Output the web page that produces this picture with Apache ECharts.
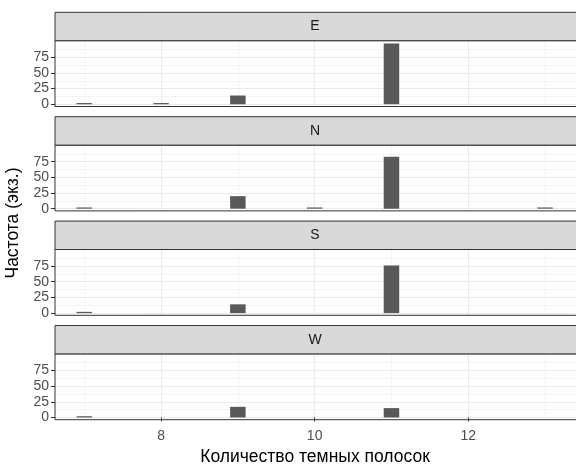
<!DOCTYPE html>
<html><head><meta charset="utf-8">
<script src="https://cdn.jsdelivr.net/npm/echarts@6/dist/echarts.min.js"></script>
<style>html,body{margin:0;padding:0;background:#fff}#c{width:576px;height:466px}</style>
</head><body><div id="c"></div>
<script>
// ---- data ----
const facets = ['E', 'N', 'S', 'W'];
const xValues = [7, 8, 9, 10, 11, 12, 13];
const countsE = [2, 2, 14, 0, 97, 0, 0];
const countsN = [2, 0, 20, 2, 83, 0, 2];
const countsS = [2, 0, 14, 0, 76, 0, 0];
const countsW = [2, 0, 17, 0, 15, 0, 0];
const yTicks = [0, 25, 50, 75];
const yMinor = [12.5, 37.5, 62.5, 87.5];
const xTicks = [8, 10, 12];
const xMinor = [7, 9, 11, 13];
const xTitle = 'Количество темных полосок';
const yTitle = 'Частота (экз.)';

// ---- layout ----
const FONT = '"Liberation Sans", Arial, sans-serif';
const left = 55, visW = 521, borderW = 532, stripTop0 = 12.3, step = 104.4, stripH = 28.4, panelH = 65.8;
const xMin = 6.619, xMax = 6.619 + visW / 76.8;
const yMin = -3.5, yMax = 101.4;
const allCounts = [countsE, countsN, countsS, countsW];

const grids = [], xAxes = [], yAxes = [], series = [], graphics = [];
facets.forEach((f, i) => {
  const sTop = stripTop0 + step * i;
  const last = i === facets.length - 1;
  grids.push({left: left, top: sTop + stripH, width: visW, height: panelH, show: true,
    borderWidth: 0, backgroundColor: '#ffffff', containLabel: false});
  xAxes.push({gridIndex: i, type: 'value', min: xMin, max: xMax, position: 'bottom',
    axisLine: {show: false},
    axisTick: {show: last, customValues: xTicks, length: 4, lineStyle: {color: '#333333', width: 1}},
    axisLabel: {show: last, customValues: xTicks, margin: 9, color: '#4D4D4D', fontSize: 14, fontFamily: FONT},
    splitLine: {show: true, lineStyle: {color: '#EBEBEB', width: 1.1}}});
  xAxes.push({gridIndex: i, type: 'value', min: xMin, max: xMax, position: 'top',
    axisLine: {show: false}, axisTick: {show: false, customValues: xMinor}, axisLabel: {show: false},
    splitLine: {show: true, lineStyle: {color: '#EBEBEB', width: 0.6}}});
  yAxes.push({gridIndex: i, type: 'value', min: yMin, max: yMax, position: 'left',
    axisLine: {show: false},
    axisTick: {show: true, customValues: yTicks, length: 4, lineStyle: {color: '#333333', width: 1}},
    axisLabel: {customValues: yTicks, margin: 6, color: '#4D4D4D', fontSize: 14, fontFamily: FONT},
    splitLine: {show: true, lineStyle: {color: '#EBEBEB', width: 1.1}}});
  yAxes.push({gridIndex: i, type: 'value', min: yMin, max: yMax, position: 'right',
    axisLine: {show: false}, axisTick: {show: false, customValues: yMinor}, axisLabel: {show: false},
    splitLine: {show: true, lineStyle: {color: '#EBEBEB', width: 0.6}}});
  const data = xValues.map((x, k) => [x, allCounts[i][k]]).filter(d => d[1] > 0);
  series.push({type: 'bar', xAxisIndex: 2 * i, yAxisIndex: 2 * i, data: data, barWidth: 15.5,
    itemStyle: {color: '#595959'}, silent: true, z: 3});
  // panel border (extends past the right edge, as in the cropped reference)
  graphics.push({type: 'rect', shape: {x: left, y: sTop + stripH, width: borderW, height: panelH},
    style: {fill: null, stroke: '#333333', lineWidth: 1}, z: 9, silent: true});
  graphics.push({type: 'rect', shape: {x: left, y: sTop, width: borderW, height: stripH},
    style: {fill: '#D9D9D9', stroke: '#333333', lineWidth: 1}, z: 10, silent: true});
  graphics.push({type: 'text', x: 315, y: sTop + stripH / 2,
    style: {text: f, fill: '#1A1A1A', font: '14px ' + FONT, textAlign: 'center', textVerticalAlign: 'middle'}, z: 11});
});
graphics.push({type: 'text', x: 315, y: 457,
  style: {text: xTitle, fill: '#000000', font: '17.5px ' + FONT, textAlign: 'center', textVerticalAlign: 'middle'}, z: 11});
graphics.push({type: 'text', x: 13, y: 223, rotation: Math.PI / 2,
  style: {text: yTitle, fill: '#000000', font: '17.5px ' + FONT, textAlign: 'center', textVerticalAlign: 'middle'}, z: 11});

const chart = echarts.init(document.getElementById('c'), null, {renderer: 'canvas'});
chart.setOption({animation: false, backgroundColor: '#ffffff',
  grid: grids, xAxis: xAxes, yAxis: yAxes, series: series, graphic: graphics});
</script></body></html>
